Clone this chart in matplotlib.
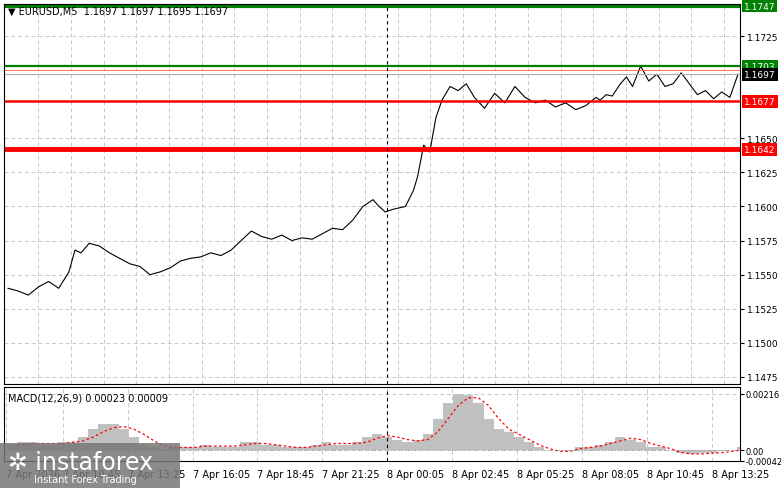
import matplotlib.pyplot as plt
from matplotlib.patches import Rectangle
import numpy as np

# price path (bar index, close)
price_bars = [0, 5, 10, 15, 20, 25, 30, 33, 36, 40, 45, 50, 55, 60, 65, 70, 75, 80, 85, 90,
              95, 100, 105, 110, 115, 120, 125, 130, 135, 140, 145, 150, 155, 160, 165, 170,
              175, 180, 183, 186, 190, 196, 200, 202, 205, 208, 211, 214, 218, 222, 226, 230,
              235, 240, 245, 250, 255, 260, 265, 270, 275, 280, 285, 290, 292, 295, 298, 302,
              305, 308, 312, 316, 320, 324, 328, 332, 336, 340, 344, 348, 352, 356, 360]
price_vals = [1.1540, 1.1538, 1.1535, 1.1541, 1.1545, 1.1540, 1.1552, 1.1568, 1.1566, 1.1573,
              1.1571, 1.1566, 1.1562, 1.1558, 1.1556, 1.1550, 1.1552, 1.1555, 1.1560, 1.1562,
              1.1563, 1.1566, 1.1564, 1.1568, 1.1575, 1.1582, 1.1578, 1.1576, 1.1579, 1.1575,
              1.1577, 1.1576, 1.1580, 1.1584, 1.1583, 1.1590, 1.1600, 1.1605, 1.1600, 1.1596,
              1.1598, 1.1600, 1.1612, 1.1622, 1.1645, 1.1640, 1.1665, 1.1678, 1.1688, 1.1685,
              1.1690, 1.1680, 1.1672, 1.1683, 1.1676, 1.1688, 1.1680, 1.1676, 1.1678, 1.1673,
              1.1676, 1.1671, 1.1674, 1.1680, 1.1678, 1.1682, 1.1681, 1.1690, 1.1695, 1.1688,
              1.1703, 1.1692, 1.1697, 1.1688, 1.1690, 1.1698, 1.1690, 1.1682, 1.1685, 1.1679,
              1.1684, 1.1680, 1.1697]

# MACD histogram (x1e-4), one value per 5 bars
macd_hist = [2, 3, 3, 2, 2, 3, 3, 5, 8, 10, 10, 8, 5, 2, 1, 0.5, 1, 1, 1, 2, 1, 1, 1, 3, 3, 2,
             2, 1, 1, 1, 2, 3, 2, 2, 3, 5, 6, 5, 4, 3, 4, 6, 12, 18, 21.6, 21, 18, 12, 8, 7, 5, 3,
             1, 0, 0, -0.5, 1, 1, 2, 3, 5, 4, 3, 1, 1, 0, -1, -1.5, -1, -1, -0.5, 0, 1, 2]
macd_signal = [2, 2, 2.5, 2.5, 2.5, 2.5, 3, 3.5, 5, 7, 8.5, 9, 8, 6, 3.5, 1.5, 1, 1, 1, 1.5,
               1.5, 1.5, 1.5, 2, 2.5, 2.5, 2, 1.5, 1, 1, 1.5, 2, 2.5, 2.5, 2.5, 3, 4.5, 5.5, 5,
               4, 3.5, 4, 7, 12, 17, 20, 20, 17, 12, 8, 6, 4, 2, 0.5, -0.5, -0.5, 0.5, 1, 1.5,
               2.5, 3.5, 4.5, 4, 2.5, 1.5, 0.5, -1, -1.5, -1.5, -1.2, -1, -0.5, 0, 1]

time_ticks = [-1, 27, 59, 91, 123, 155, 187, 219, 251, 283, 315, 347]
time_labels = ['7 Apr 2026', '7 Apr 10:45', '7 Apr 13:25', '7 Apr 16:05', '7 Apr 18:45',
               '7 Apr 21:25', '8 Apr 00:05', '8 Apr 02:45', '8 Apr 05:25', '8 Apr 08:05',
               '8 Apr 10:45', '8 Apr 13:25']
price_ticks = [1.1725, 1.1650, 1.1625, 1.1600, 1.1575, 1.1550, 1.1525, 1.1500, 1.1475]

levels = [(1.1747, 'green', 3), (1.1703, 'green', 1.6), (1.1677, 'red', 1.8), (1.1642, 'red', 3.5)]

plt.rcParams['font.family'] = 'DejaVu Sans'
fig = plt.figure(figsize=(7.81, 4.89), dpi=100)
W, H = 781, 489
ax = fig.add_axes([4 / W, 1 - 385 / H, 736 / W, 380 / H])
ax2 = fig.add_axes([4 / W, 1 - 462 / H, 736 / W, 74 / H])

for a in (ax, ax2):
    a.set_xlim(-2, 361)
    for s in a.spines.values():
        s.set_color('black')
        s.set_linewidth(0.8)
    a.yaxis.tick_right()
    a.tick_params(axis='y', labelsize=6.5, length=3, pad=2)
    a.tick_params(axis='x', length=0)
    a.set_xticks(np.arange(15, 361, 16.1))
    a.grid(True, color='#c8c8c8', ls=(0, (4, 3)), lw=0.7)

ax.set_ylim(1.14698, 1.17485)
ax.set_yticks(price_ticks)
ax.set_yticklabels([f'{v:.4f}' for v in price_ticks])
ax.set_xticklabels([])
ax.plot(price_bars, price_vals, color='black', lw=0.8)
for lvl, col, lw in levels:
    ax.axhline(lvl, color=col, lw=lw)
ax.axhline(1.1697, color='#b0b0b0', lw=0.8)
ax.axhline(1.1700, color='#ff6030', lw=0.6)
ax.axvline(187, color='black', ls=(0, (3, 3)), lw=0.8)
ax2.axvline(187, color='black', ls=(0, (3, 3)), lw=0.8)

tag_style = [(1.1747, 'green'), (1.1703, 'green'), (1.1697, 'black'), (1.1677, 'red'), (1.1642, 'red')]
for v, col in tag_style:
    ax.annotate(f'{v:.4f}', xy=(1.0, v), xycoords=('axes fraction', 'data'),
                xytext=(3, 0), textcoords='offset points', fontsize=6.5, color='white',
                va='center', ha='left',
                bbox=dict(boxstyle='square,pad=0.2', fc=col, ec='none'))

ax.text(0.005, 0.995, '▼ EURUSD,M5  1.1697 1.1697 1.1695 1.1697', transform=ax.transAxes,
        fontsize=7, va='top', ha='left')

hx = np.arange(len(macd_hist)) * 5 + 2
hv = np.array(macd_hist) * 1e-4
ax2.bar(hx, hv, width=5, color='#c0c0c0', edgecolor='none')
ax2.plot(hx, np.array(macd_signal) * 1e-4, color='red', ls=(0, (2, 2)), lw=0.9)
ax2.set_ylim(-0.000252, 0.002412)
ax2.set_yticks([0.00216, 0.0, -0.00042])
ax2.set_yticklabels(['0.00216', '0.00', '-0.00042'])
ax2.tick_params(axis='y', labelsize=6, pad=1)
ax2.axhline(0, color='#a0a0a0', ls=(0, (2, 2)), lw=0.6)
ax2.text(0.005, 0.93, 'MACD(12,26,9) 0.00023 0.00009', transform=ax2.transAxes,
         fontsize=7, va='top', ha='left')
ax2.set_xticks(time_ticks)
ax2.set_xticklabels(time_labels, fontsize=7, ha='left')
ax2.tick_params(axis='x', pad=6)

# watermark
fig.patches.append(Rectangle((0, 0), 180 / W, 45 / H, transform=fig.transFigure,
                             fc='#777777', alpha=0.85, ec='none'))
fig.text(8 / W, 26 / H, '✲ instaforex', fontsize=17, color='white', va='center')
fig.text(34 / W, 9 / H, 'Instant Forex Trading', fontsize=7, color='white', va='center')

fig.savefig('out.png', dpi=100)
